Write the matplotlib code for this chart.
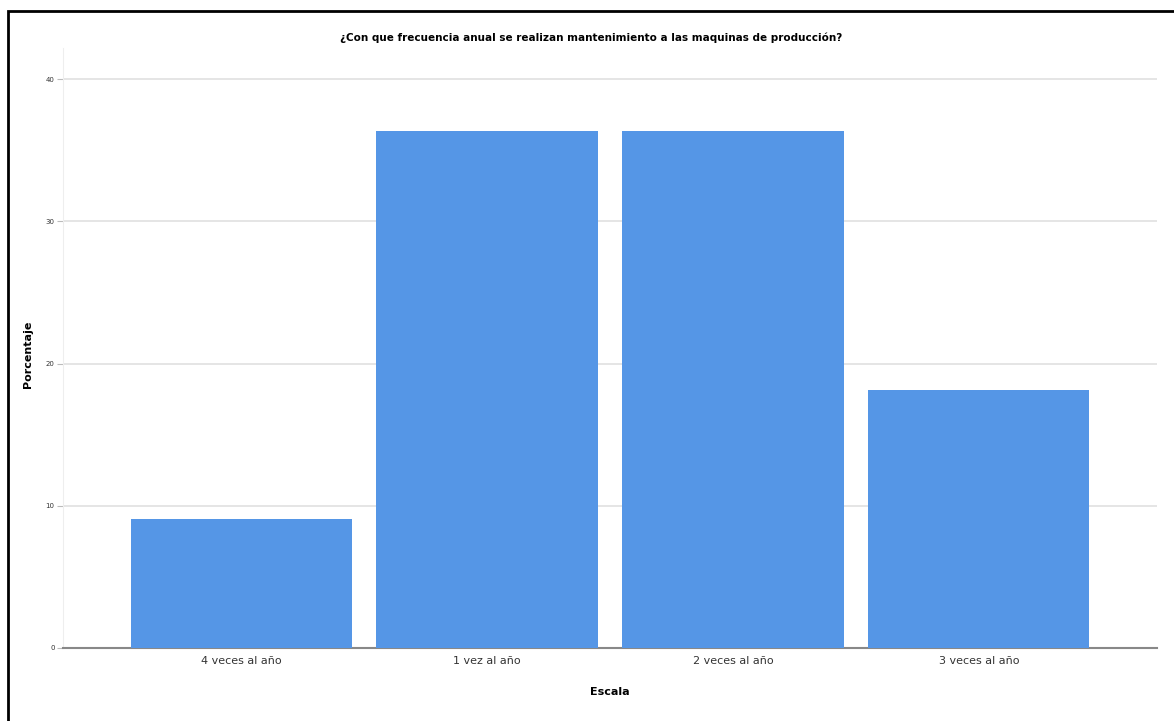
import matplotlib
matplotlib.use("Agg")
import matplotlib.pyplot as plt
from matplotlib.patches import Rectangle

categories = ["4 veces al año", "1 vez al año", "2 veces al año", "3 veces al año"]
percentages = [9.09, 36.36, 36.36, 18.18]
yticks = [0, 10, 20, 30, 40]

W, H = 1174, 721
fig = plt.figure(figsize=(W / 100, H / 100), dpi=100)
fig.patch.set_facecolor("white")

# outer frame
fig.patches.append(Rectangle((8 / W, -0.05), 1.2, (H - 11) / H + 0.05, transform=fig.transFigure,
                             fill=False, edgecolor="black", linewidth=2))

ax = fig.add_axes([63 / W, (H - 648) / H, (1157 - 63) / W, (648 - 48) / H])
x = range(len(categories))
ax.bar(x, percentages, width=0.9, color="#5596E6", zorder=3)
ax.set_xlim(-0.725, 3.725)
ax.set_ylim(0, 42.2)
ax.set_yticks(yticks)
ax.set_yticklabels([str(t) for t in yticks], fontsize=5, color="#333333")
ax.set_xticks(list(x))
ax.set_xticklabels(categories, fontsize=8, color="#333333")
ax.tick_params(axis="y", length=4, color="#bbbbbb", pad=2)
ax.tick_params(axis="x", length=0, pad=6)
ax.grid(axis="y", color="#e0e0e0", linewidth=1.2, zorder=0)
for s in ["top", "right"]:
    ax.spines[s].set_visible(False)
ax.spines["left"].set_color("#eeeeee")
ax.spines["bottom"].set_color("#888888")
ax.spines["bottom"].set_linewidth(1.5)
ax.set_ylabel("Porcentaje", fontsize=8, fontweight="bold")
ax.yaxis.set_label_coords(-30 / 1094, 0.49)
ax.set_xlabel("Escala", fontsize=8, fontweight="bold")
ax.xaxis.set_label_coords(0.5, -39 / 600)
fig.text(591 / W, 1 - 38 / H, "¿Con que frecuencia anual se realizan mantenimiento a las maquinas de producción?",
         ha="center", va="center", fontsize=7.5, fontweight="bold")

fig.savefig("out.png", dpi=100)
